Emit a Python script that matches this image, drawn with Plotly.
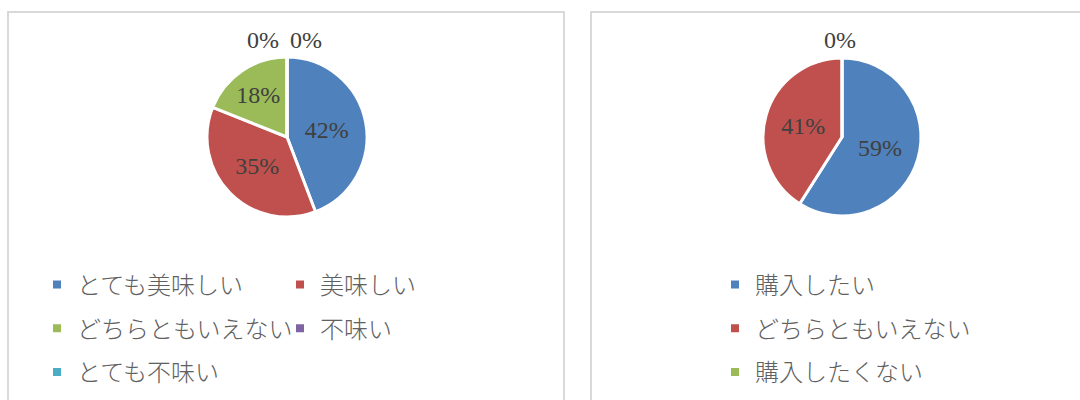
import plotly.graph_objects as go

# Survey results
taste_labels = ["とても美味しい", "美味しい", "どちらともいえない", "不味い", "とても不味い"]
taste_values = [42, 35, 18, 0, 0]

buy_labels = ["購入したい", "どちらともいえない", "購入したくない"]
buy_values = [59, 41, 0]

palette = ["#4F81BD", "#C0504D", "#9BBB59", "#8064A2", "#4BACC6"]

W, H = 1080, 400


def fx(px):
    return px / W


def fy(py):
    return 1 - py / H


label_font = dict(family="Liberation Serif", size=24, color="#404040")


def text_positions(values):
    # empty slices get their label written above the pie instead
    return ["inside" if v > 0 else "none" for v in values]


fig = go.Figure()

fig.add_trace(go.Pie(
    labels=taste_labels, values=taste_values, sort=False, direction="clockwise",
    marker=dict(colors=palette, line=dict(color="white", width=3)),
    texttemplate="%{value}%", textposition=text_positions(taste_values),
    insidetextorientation="horizontal",
    textfont=label_font, insidetextfont=label_font,
    domain=dict(x=[fx(207), fx(367)], y=[fy(217), fy(57)]),
    showlegend=False, hoverinfo="label+value",
))

fig.add_trace(go.Pie(
    labels=buy_labels, values=buy_values, sort=False, direction="clockwise",
    marker=dict(colors=palette[:3], line=dict(color="white", width=3)),
    texttemplate="%{value}%", textposition=text_positions(buy_values),
    insidetextorientation="horizontal",
    textfont=label_font, insidetextfont=label_font,
    domain=dict(x=[fx(763), fx(921)], y=[fy(217), fy(57)]),
    showlegend=False, hoverinfo="label+value",
))

# Labels for the empty slices, set side by side above the 12 o'clock mark
zero_label_x = {"taste": [263, 306.5], "buy": [840]}
annotations = []
for key, values in (("taste", taste_values), ("buy", buy_values)):
    zeros = [v for v in values if v == 0]
    for v, px in zip(zeros, zero_label_x[key]):
        annotations.append(dict(
            text=f"{v}%", x=fx(px), y=fy(40), xref="paper", yref="paper",
            xanchor="center", yanchor="middle", showarrow=False, font=label_font,
        ))


def legend_entry(name, color, legend_id, group):
    return go.Scatter(
        x=[None], y=[None], mode="markers", name=name,
        marker=dict(symbol="square", size=8, color=color),
        legend=legend_id, legendgroup=group, showlegend=True, hoverinfo="skip",
    )


# Left chart key: two columns
for i, (name, col) in enumerate(zip(taste_labels, palette)):
    fig.add_trace(legend_entry(name, col, "legend" if i % 2 == 0 else "legend2", f"t{i}"))

# Right chart key: one column
for i, (name, col) in enumerate(zip(buy_labels, palette)):
    fig.add_trace(legend_entry(name, col, "legend3", f"b{i}"))

legend_style = dict(
    orientation="v", xanchor="left", yanchor="top",
    font=dict(family="Noto Sans CJK JP", size=24, color="#606060", weight=300),
    bgcolor="rgba(0,0,0,0)", borderwidth=0, tracegroupgap=9.5,
    traceorder="grouped", itemclick=False, itemdoubleclick=False,
)

panel_line = dict(color="#D9D9D9", width=2)

fig.update_layout(
    width=W, height=H,
    margin=dict(l=0, r=0, t=0, b=0, autoexpand=False),
    paper_bgcolor="white", plot_bgcolor="white",
    xaxis=dict(visible=False, range=[0, 1]),
    yaxis=dict(visible=False, range=[0, 1]),
    legend=dict(x=fx(37), y=fy(262.5), **legend_style),
    legend2=dict(x=fx(280), y=fy(262.5), **legend_style),
    legend3=dict(x=fx(715), y=fy(262.5), **legend_style),
    annotations=annotations,
    shapes=[
        dict(type="rect", xref="paper", yref="paper",
             x0=fx(8), x1=fx(564), y0=fy(420), y1=fy(12), line=panel_line, layer="below"),
        dict(type="rect", xref="paper", yref="paper",
             x0=fx(591), x1=fx(1100), y0=fy(420), y1=fy(12), line=panel_line, layer="below"),
    ],
    showlegend=True,
)

fig.write_html("out.html")
